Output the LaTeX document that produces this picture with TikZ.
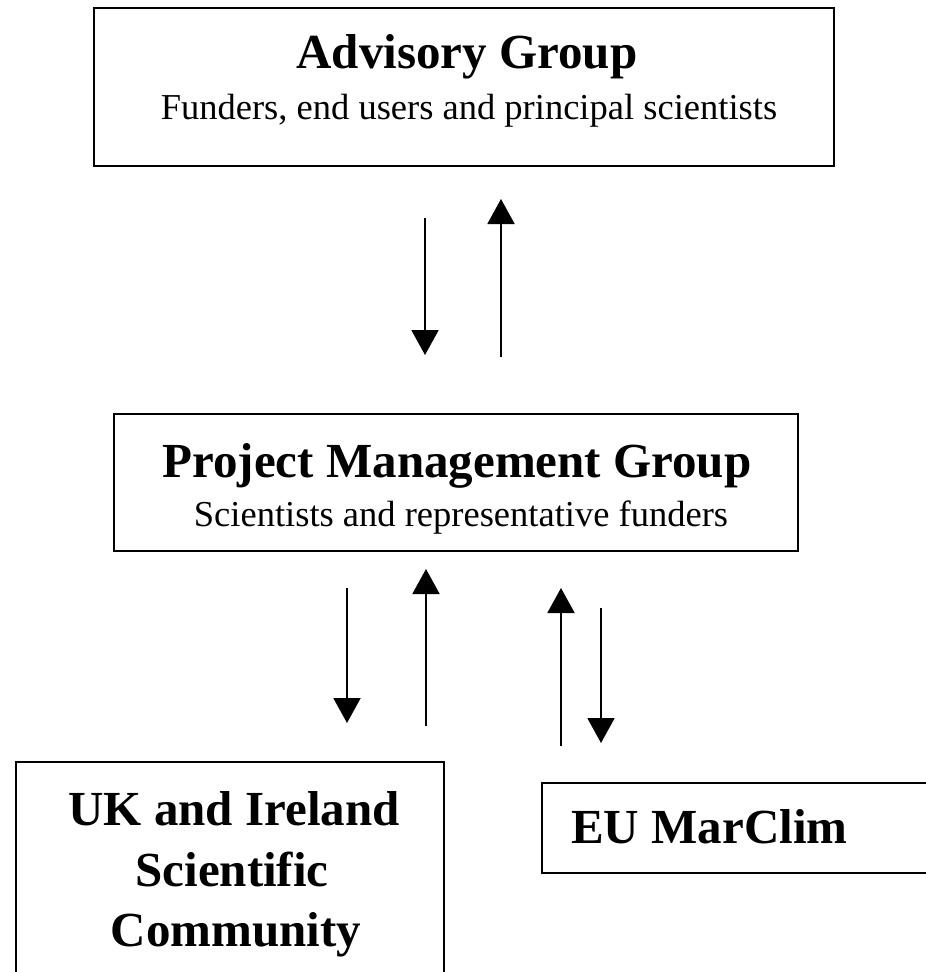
\documentclass[tikz,border=0pt]{standalone}
\usepackage{fontspec}
\setmainfont{Liberation Serif}
\usetikzlibrary{arrows.meta}
\usetikzlibrary{positioning}

\begin{document}
\begin{tikzpicture}[x=1pt, y=-1pt]

        \def\ttlfont{\fontsize{49}{60}\selectfont\bfseries}
        \def\subfont{\fontsize{36.5}{44}\selectfont}

        % Styles of the boxes, the texts and the arrows
        \tikzset{
            box/.style={draw, line width=2.5pt, inner sep=0pt},
            ttl/.style={font=\ttlfont, inner sep=0pt, anchor=base},
            sub/.style={font=\subfont, inner sep=0pt, anchor=base},
            flow/.style={line width=2pt, -{Triangle[width=27pt, length=25pt]}}
        }

        \useasboundingbox (0,0) rectangle (926,972);

        % Scope used for the boxes and their texts
        \begin{scope}
            \node[box, minimum width=740pt, minimum height=158pt]
            (AG) at (464,87) {};
            \node[ttl] (AGt) at (467,68) {Advisory Group};
            \node[sub] (AGs) at (469,119)
            {Funders, end users and principal scientists};

            \node[box, minimum width=684pt, minimum height=137pt]
            (PMG) at (456,482.5) {};
            \node[ttl] (PMGt) at (457,477) {Project Management Group};
            \node[sub] (PMGs) at (461,526)
            {Scientists and representative funders};

            \node[box, minimum width=428pt, minimum height=248pt]
            (UK) at (230,886) {};
            \node[ttl] (UK1) at (234,825) {UK and Ireland};
            \node[ttl] (UK2) at (232,886) {Scientific};
            \node[ttl] (UK3) at (236,946) {Community};

            \node[box, minimum width=418pt, minimum height=90pt]
            (EU) at (751,828) {};
            \node[ttl, anchor=base west] (EUt) at (571,843) {EU MarClim};
        \end{scope}

        % Ends of the arrows between the groups
        \foreach \n/\x/\a/\b in {1/425/218/355, 2/501/357/199,
            3/347/588/723, 4/426/726/569, 5/561/746/588, 6/601/608/743}
        {
            \coordinate (s\n) at (\x,\a);
            \coordinate (e\n) at (\x,\b);
        }

        \begin{scope}
            \foreach \n in {1,..., 6}
            \draw[flow] (s\n) -- (e\n);
        \end{scope}

\end{tikzpicture}
\end{document}
